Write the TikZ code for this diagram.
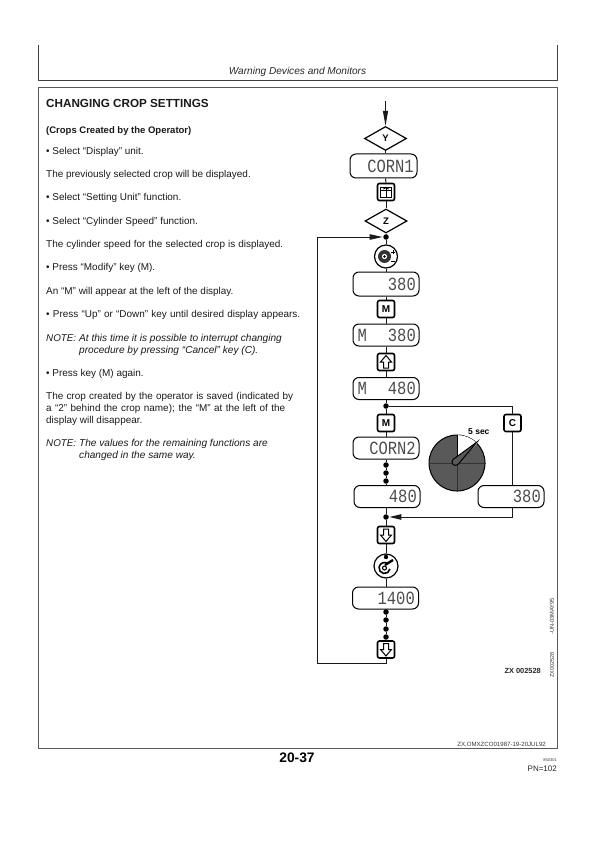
\documentclass[tikz,border=0pt]{standalone}
\usepackage{fontspec}
\setmainfont{Liberation Sans}
\newfontfamily\dispfont{Liberation Mono}
\usetikzlibrary{arrows.meta,shapes.geometric,calc}
\tikzset{
  line/.style={line width=1pt,black!90},
  frameline/.style={line width=0.8pt,black!75},
  txt/.style={anchor=base west,inner sep=0pt,font=\fontsize{9.95}{10}\selectfont,black!90},
  notetxt/.style={txt,font=\fontsize{10.1}{10}\selectfont\itshape},
  notelab/.style={txt,font=\fontsize{9.8}{10}\selectfont\itshape},
  dia/.style={diamond,draw,line width=1.2pt,aspect=1.75,minimum width=42pt,minimum height=24pt,inner sep=0pt,font=\fontsize{9.5}{10}\selectfont\bfseries},
  disp/.style={draw,line width=1pt,rounded corners=6pt,minimum width=66pt,minimum height=22pt,inner sep=0pt},
  keybox/.style={draw,line width=1.6pt,rounded corners=2pt,minimum width=17pt,minimum height=17pt,inner sep=0pt,fill=white,font=\fontsize{10}{10}\selectfont\bfseries},
  knob/.style={circle,draw,line width=1.2pt,minimum size=23pt,inner sep=0pt,fill=white},
  jn/.style={circle,fill=black,inner sep=0pt,minimum size=5.5pt},
  dig/.style={anchor=east,inner sep=0pt,font=\dispfont\fontsize{15.5}{15}\selectfont,black!70,yscale=1.2},
}
\begin{document}
\begin{tikzpicture}[x=1pt,y=-1pt]
\useasboundingbox (0,0) rectangle (596,842);
% page frames
\coordinate (fa) at (38.5,45); \coordinate (fb) at (38.5,80.5); \coordinate (fc) at (557,80.5); \coordinate (fd) at (557,45);
\draw[frameline] (fa) -- (fb) -- (fc) -- (fd);
\coordinate (ga) at (38.5,88); \coordinate (gb) at (557,88); \coordinate (gc) at (557,748); \coordinate (gd) at (38.5,748);
\draw[frameline,line width=1pt,black!65] (ga) -- (gb) -- (gc) -- (gd) -- cycle;
% header
\node[anchor=base,inner sep=0pt,font=\fontsize{10.1}{10}\selectfont\itshape,black!85] (head) at (297.5,74.5) {Warning Devices and Monitors};
% left text
\node[txt,font=\fontsize{11.7}{12}\selectfont\bfseries] (t1) at (46,107.5) {CHANGING CROP SETTINGS};
\node[txt,font=\fontsize{9.5}{10}\selectfont\bfseries] (t2) at (46,133.5) {(Crops Created by the Operator)};
\node[txt] (t3) at (46,154.5) {• Select “Display” unit.};
\node[txt] (t4) at (46,177.5) {The previously selected crop will be displayed.};
\node[txt] (t5) at (46,200.5) {• Select “Setting Unit” function.};
\node[txt] (t6) at (46,224) {• Select “Cylinder Speed” function.};
\node[txt] (t7) at (46,247.5) {\makebox[237pt][s]{The cylinder speed for the selected crop is displayed.}};
\node[txt] (t8) at (46,270.5) {• Press “Modify” key (M).};
\node[txt] (t9) at (46,294) {An “M” will appear at the left of the display.};
\node[txt] (t10) at (46,317.5) {\makebox[254pt][s]{• Press “Up” or “Down” key until desired display appears.}};
\node[notelab] (n1) at (46,341) {NOTE:};
\node[notetxt] (n2) at (79,341) {At this time it is possible to interrupt changing};
\node[notetxt] (n3) at (79,353) {procedure by pressing “Cancel” key (C).};
\node[txt] (t11) at (46,376.5) {• Press key (M) again.};
\node[txt] (t12) at (46,399.5) {\makebox[247pt][s]{The crop created by the operator is saved (indicated by}};
\node[txt] (t13) at (46,411.5) {\makebox[239pt][s]{a “2” behind the crop name); the “M” at the left of the}};
\node[txt] (t14) at (46,423.5) {display will disappear.};
\node[notelab] (n4) at (46,446.5) {NOTE:};
\node[notetxt] (n5) at (79,446.5) {The values for the remaining functions are};
\node[notetxt] (n6) at (79,458.5) {changed in the same way.};
% flow nodes
\coordinate (start) at (385.5,101);
\node[dia] (Y) at (385.5,138.5) {Y};
\node[disp,minimum width=67pt,minimum height=24pt] (d1) at (383.5,166) {};
\node[dig] (d1t) at (414,166) {CORN1};
\node[keybox] (kbook) at (386,192) {};
\node[dia] (Z) at (386,221) {Z};
\node[jn] (j1) at (386,237) {};
\node[knob] (k1) at (386,256.5) {};
\node[disp,minimum height=24pt] (d2) at (386,284) {};
\node[dig] (d2t) at (416,284) {380};
\node[keybox] (km1) at (386,309) {M};
\node[disp] (d3) at (386,335) {};
\node[dig] (d3m) at (367,335) {M};
\node[dig] (d3t) at (416,335) {380};
\node[keybox] (kup) at (386,362) {};
\node[disp] (d4) at (386,388.5) {};
\node[dig] (d4m) at (367,388.5) {M};
\node[dig] (d4t) at (416,388.5) {480};
\node[jn] (j2) at (386,406) {};
\node[keybox] (km2) at (386,423) {M};
\node[keybox] (kc) at (512.5,423) {C};
\node[disp] (d5) at (386,448) {};
\node[dig] (d5t) at (416,448) {CORN2};
\node[jn] (a1) at (386,465) {};
\node[jn] (a2) at (386,473) {};
\node[jn] (a3) at (386,481) {};
\node[disp] (d6) at (387,496.5) {};
\node[dig] (d6t) at (417,496.5) {480};
\node[disp] (d7) at (511,496.5) {};
\node[dig] (d7t) at (541,496.5) {380};
\node[jn] (j3) at (386,517) {};
\node[keybox] (kd1) at (386,535) {};
\node[knob,minimum size=24pt] (k2) at (386,566) {};
\node[disp] (d8) at (385.5,598) {};
\node[dig] (d8t) at (415,598) {1400};
\node[jn] (b1) at (386,612) {};
\node[jn] (b2) at (386,620) {};
\node[jn] (b3) at (386,629) {};
\node[jn] (b4) at (386,637) {};
\node[keybox] (kd2) at (386,649.5) {};
\coordinate (loopa) at (386,663);
\coordinate (loopb) at (317.5,663);
\coordinate (loopc) at (317.5,237);
\coordinate (r1) at (512.5,406);
\coordinate (r2) at (512.5,517);
% connectors
\draw[line,-{Stealth[inset=0pt,length=15pt,width=5pt]}] (start) -- (Y.north);
\draw[line] (Y.south) -- (Y.south |- d1.north);
\draw[line] (Y.south |- d1.south) -- (kbook.north);
\draw[line] (kbook.south) -- (Z.north);
\draw[line] (Z.south) -- (j1);
\draw[line] (j1) -- (k1.north);
\draw[line] (k1.south) -- (d2.north);
\draw[line] (d2.south) -- (km1.north);
\draw[line] (km1.south) -- (d3.north);
\draw[line] (d3.south) -- (kup.north);
\draw[line] (kup.south) -- (d4.north);
\draw[line] (d4.south) -- (j2);
\draw[line] (j2) -- (km2.north);
\draw[line] (km2.south) -- (d5.north);
\draw[line] (d5.south) -- (a1);
\draw[line] (a1) -- (a2);
\draw[line] (a2) -- (a3);
\draw[line] (a3) -- (a3 |- d6.north);
\draw[line] (a3 |- d6.south) -- (j3);
\draw[line] (j3) -- (kd1.north);
\draw[line] (kd1.south) -- (k2.north);
\draw[line] (k2.south) -- (k2.south |- d8.north);
\draw[line] (k2.south |- d8.south) -- (b1);
\draw[line] (b1) -- (b2);
\draw[line] (b2) -- (b3);
\draw[line] (b3) -- (b4);
\draw[line] (b4) -- (kd2.north);
\draw[line] (kd2.south) -- (loopa) -- (loopb) -- (loopc);
\draw[line,-{Stealth[inset=0pt,length=13pt,width=5.5pt]}] (loopc) -- ($(j1.west)+(-0.5,0)$);
\draw[line] (j2) -- (r1) -- (kc.north);
\draw[line] (kc.south) -- (kc.south |- d7.north);
\draw[line] (kc.south |- d7.south) -- (r2);
\draw[line,-{Stealth[inset=0pt,length=12pt,width=5.5pt]}] (r2) -- ($(j3.east)+(0.5,0)$);
% key icons
\begin{scope}[shift={(kbook.center)}]
  \draw[line width=0.9pt] (-5.5,-5) rectangle (5.5,5);
  \draw[line width=0.8pt] (0,-5) -- (0,5) (-5.5,-1.5) -- (5.5,-1.5);
  \draw[line width=0.7pt] (-3,-3) -- (0,-4) -- (3,-3);
\end{scope}
\foreach \n in {kup}{
\begin{scope}[shift={(\n.center)}]
  \draw[line width=1pt,fill=white] (0,-6.5) -- (5.5,0) -- (2.5,0) -- (2.5,6) -- (-2.5,6) -- (-2.5,0) -- (-5.5,0) -- cycle;
\end{scope}}
\foreach \n in {kd1,kd2}{
\begin{scope}[shift={(\n.center)}]
  \draw[line width=1pt,fill=white] (0,6.5) -- (5.5,0) -- (2.5,0) -- (2.5,-6) -- (-2.5,-6) -- (-2.5,0) -- (-5.5,0) -- cycle;
\end{scope}}
% knob icons
\begin{scope}[shift={(k1.center)}]
  \fill[black!80] (-1.5,0) circle (6.5);
  \fill[white] (-1.5,0) circle (2.6);
  \fill[black] (-1.5,0) circle (1.3);
  \draw[line width=1pt] (5,-4.5) -- (9,-4.5) (7,-6.5) -- (7,-2.5) (5,4.5) -- (9,4.5);
\end{scope}
\begin{scope}[shift={(k2.center)}]
  \draw[line width=1.6pt] (-1.5,2) ++(10:5.5) arc[start angle=10,end angle=300,radius=5.5];
  \draw[line width=1.1pt] (-1.5,2) circle (2);
  \draw[line width=2.4pt] (-1,-1) -- (7,-6);
  \fill[black] (0,-9) circle (2.2);
\end{scope}
% timer
\node[circle,draw,line width=1pt,minimum size=56pt,inner sep=0pt,fill=black!65] (pie) at (457,463) {};
\fill[white] (pie.center) -- (457,435) arc[start angle=-90,end angle=-44,radius=28] -- cycle;
\draw[line width=0.5pt,black!80] (pie.west) -- (pie.east) (pie.north) -- (pie.south);
\draw[line width=1pt] (pie.center) -- (457,435);
\coordinate (tip) at (477,442);
\draw[line width=1pt,fill=black!65] (tip) -- (453,459.5) arc[start angle=225,end angle=45,radius=3.5] -- cycle;
\node[anchor=base west,inner sep=0pt,font=\fontsize{8.5}{8}\selectfont\bfseries] (sec) at (468,434.5) {5 sec};
% margin labels
\node[anchor=base east,inner sep=0pt,font=\fontsize{7.4}{8}\selectfont\bfseries,black!85] (zx) at (541,673) {ZX 002528};
\node[rotate=90,anchor=center,inner sep=0pt,font=\fontsize{5.7}{6}\selectfont,black!80] (un) at (552,616.5) {-UN-03MAY95};
\node[rotate=90,anchor=center,inner sep=0pt,font=\fontsize{5.4}{6}\selectfont,black!80] (zv) at (552,665) {ZX002528};
% footer
\node[anchor=base east,inner sep=0pt,font=\fontsize{6.1}{6}\selectfont,black!80] (ref) at (546,746.5) {ZX,OMXZCO01987-19-20JUL92};
\node[anchor=base,inner sep=0pt,font=\fontsize{13.8}{14}\selectfont\bfseries] (pg) at (297,762.5) {20-37};
\node[anchor=base east,inner sep=0pt,font=\fontsize{4}{5}\selectfont,black!80] (dt) at (557,761.5) {850301};
\node[anchor=base east,inner sep=0pt,font=\fontsize{8}{9}\selectfont,black!85] (pn) at (557,771) {PN=102};
\end{tikzpicture}
\end{document}
